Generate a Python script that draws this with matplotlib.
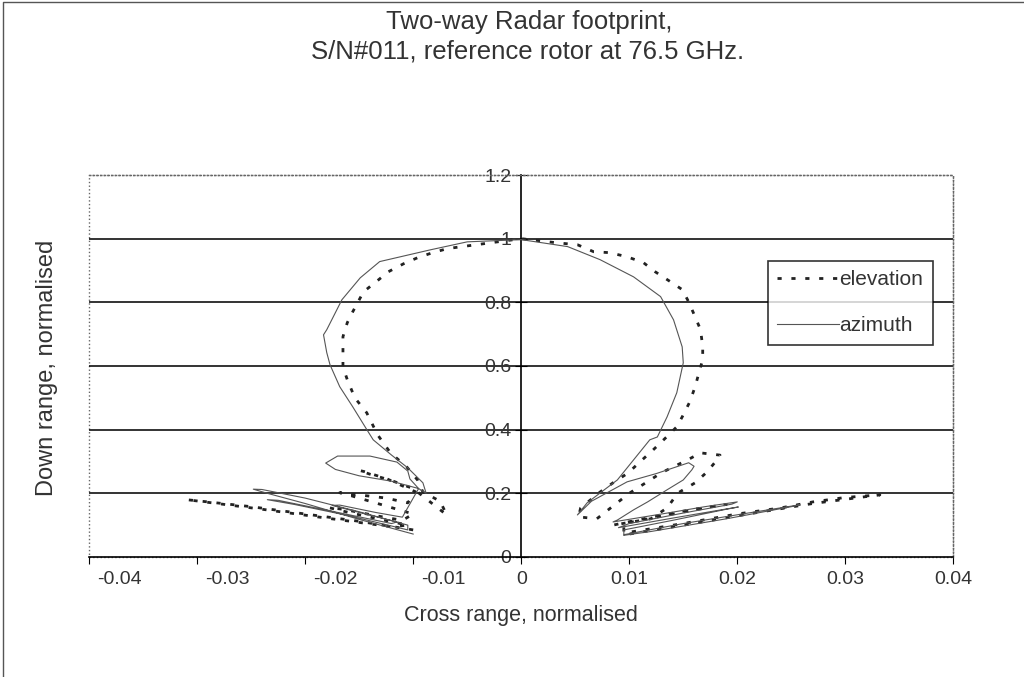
import matplotlib.pyplot as plt
from matplotlib.patches import Rectangle
from matplotlib.lines import Line2D
from matplotlib.transforms import ScaledTranslation

# Traced data (cross range, down range), both normalised
# azimuth: outer left sidelobes -> main lobe -> right sidelobes
az_x = [-0.0100, -0.0150, -0.0200, -0.0235, -0.0248, -0.0240, -0.0200, -0.0150, -0.0105,
        -0.0105, -0.0160, -0.0210, -0.0235, -0.0225, -0.0170, -0.0120,
        -0.0115, -0.0150, -0.0175, -0.0168, -0.0135, -0.0110,
        -0.0095, -0.0120, -0.0150, -0.0172, -0.0181, -0.0170, -0.0140, -0.0115, -0.0105, -0.0103, -0.0095,
        -0.0088, -0.0091, -0.0105, -0.0120, -0.0137, -0.0144, -0.0156, -0.0168, -0.0177, -0.0180,
        -0.0183, -0.0180, -0.0166, -0.0149, -0.0131, -0.0084, -0.0050, 0.0000,
        0.0043, 0.0073, 0.0104, 0.0129, 0.0141, 0.0149, 0.0150, 0.0144, 0.0135, 0.0126,
        0.0119, 0.0104, 0.0089, 0.0073, 0.0061, 0.0052,
        0.0065, 0.0098, 0.0125, 0.0155, 0.0160, 0.0158, 0.0150, 0.0135, 0.0117, 0.0104, 0.0089,
        0.0085, 0.0130, 0.0170, 0.0200, 0.0195, 0.0150, 0.0100,
        0.0090, 0.0140, 0.0185, 0.0201, 0.0190, 0.0140, 0.0095,
        0.0095, 0.0150, 0.0210, 0.0258, 0.0250, 0.0190, 0.0120, 0.0095]
az_y = [0.072, 0.118, 0.168, 0.200, 0.213, 0.212, 0.185, 0.142, 0.100,
        0.085, 0.130, 0.165, 0.180, 0.178, 0.140, 0.105,
        0.110, 0.140, 0.162, 0.163, 0.140, 0.125,
        0.215, 0.238, 0.255, 0.275, 0.295, 0.317, 0.317, 0.298, 0.270, 0.245, 0.215,
        0.200, 0.233, 0.280, 0.320, 0.368, 0.406, 0.472, 0.535, 0.604, 0.642,
        0.698, 0.714, 0.808, 0.877, 0.928, 0.965, 0.990, 0.997,
        0.975, 0.934, 0.880, 0.818, 0.745, 0.660, 0.610, 0.516, 0.440, 0.377,
        0.368, 0.305, 0.242, 0.201, 0.170, 0.132,
        0.175, 0.236, 0.262, 0.296, 0.285, 0.274, 0.242, 0.211, 0.173, 0.148, 0.116,
        0.110, 0.135, 0.158, 0.173, 0.166, 0.138, 0.105,
        0.092, 0.122, 0.148, 0.157, 0.150, 0.115, 0.085,
        0.070, 0.105, 0.138, 0.164, 0.158, 0.120, 0.080, 0.068]

# elevation: same ordering
el_x = [-0.0100, -0.0150, -0.0200, -0.0250, -0.0290, -0.0310, -0.0300, -0.0240, -0.0180, -0.0120,
        -0.0105, -0.0130, -0.0160, -0.0178, -0.0165, -0.0135, -0.0110,
        -0.0100, -0.0130, -0.0160, -0.0168, -0.0150, -0.0125, -0.0105,
        -0.0098, -0.0124, -0.0145, -0.0150, -0.0140, -0.0120, -0.0100,
        -0.0069, -0.0075, -0.0091, -0.0096, -0.0106, -0.0121, -0.0133, -0.0143, -0.0154, -0.0161,
        -0.0165, -0.0165, -0.0165, -0.0161, -0.0156, -0.0146, -0.0132, -0.0123, -0.0109, -0.0096,
        -0.0082, -0.0068, -0.0035, 0.0000,
        0.0033, 0.0052, 0.0067, 0.0082, 0.0098, 0.0113, 0.0124, 0.0138, 0.0149, 0.0154, 0.0159,
        0.0166, 0.0168, 0.0168, 0.0166, 0.0161, 0.0156, 0.0149, 0.0144, 0.0137, 0.0122, 0.0110,
        0.0099, 0.0085, 0.0073, 0.0064, 0.0055, 0.0053,
        0.0070, 0.0100, 0.0130, 0.0154, 0.0166, 0.0184, 0.0180, 0.0172, 0.0161, 0.0145, 0.0135, 0.0120,
        0.0085, 0.0120, 0.0160, 0.0190, 0.0180, 0.0140, 0.0095,
        0.0095, 0.0150, 0.0200, 0.0240, 0.0270, 0.0300, 0.0332, 0.0320, 0.0270, 0.0210, 0.0150, 0.0100]
el_y = [0.085, 0.112, 0.135, 0.158, 0.173, 0.180, 0.176, 0.150, 0.122, 0.095,
        0.100, 0.118, 0.140, 0.155, 0.150, 0.130, 0.115,
        0.135, 0.165, 0.195, 0.202, 0.195, 0.185, 0.170,
        0.205, 0.245, 0.268, 0.272, 0.260, 0.240, 0.215,
        0.132, 0.175, 0.204, 0.242, 0.283, 0.327, 0.384, 0.453, 0.500, 0.557,
        0.597, 0.660, 0.692, 0.736, 0.770, 0.833, 0.871, 0.896, 0.921, 0.940,
        0.956, 0.969, 0.984, 1.000,
        0.987, 0.981, 0.959, 0.956, 0.943, 0.925, 0.896, 0.865, 0.840, 0.808, 0.770,
        0.714, 0.660, 0.619, 0.597, 0.535, 0.487, 0.440, 0.409, 0.385, 0.336, 0.299,
        0.264, 0.233, 0.204, 0.179, 0.154, 0.126,
        0.120, 0.200, 0.265, 0.305, 0.327, 0.320, 0.300, 0.267, 0.233, 0.201, 0.154, 0.120,
        0.100, 0.125, 0.150, 0.165, 0.160, 0.135, 0.105,
        0.075, 0.105, 0.135, 0.154, 0.173, 0.187, 0.195, 0.190, 0.168, 0.135, 0.100, 0.072]

x_ticks = [-0.04, -0.03, -0.02, -0.01, 0, 0.01, 0.02, 0.03, 0.04]
x_labels = ['-0.04', '-0.03', '-0.02', '-0.01', '0', '0.01', '0.02', '0.03', '0.04']
y_ticks = [0, 0.2, 0.4, 0.6, 0.8, 1, 1.2]
y_labels = ['0', '0.2', '0.4', '0.6', '0.8', '1', '1.2']

plt.rcParams['font.family'] = ['Liberation Sans', 'DejaVu Sans']
txt = '#333333'

fig = plt.figure(figsize=(10.24, 6.77), dpi=100)
ax = fig.add_axes([0.087, 0.1773, 0.844, 0.5642])

ax.plot(el_x, el_y, color='#222222', lw=2.0, ls=(0, (1.5, 3.5)), label='elevation', zorder=3)
ax.plot(az_x, az_y, color='#555555', lw=0.8, label='azimuth', zorder=3)

ax.set_xlim(-0.04, 0.04)
ax.set_ylim(0, 1.2)
ax.set_xticks(x_ticks)
ax.set_xticklabels(x_labels)
ax.set_yticks(y_ticks)
ax.set_yticklabels(y_labels)
ax.tick_params(axis='both', labelsize=14, labelcolor=txt, colors='black')
ax.tick_params(axis='x', direction='out', length=5, pad=5)
ax.tick_params(axis='y', direction='inout', length=8, pad=3)

# negative labels sit a little right of their ticks in the original
shift = ScaledTranslation(0.30, 0, fig.dpi_scale_trans)
for lab, v in zip(ax.get_xticklabels(), x_ticks):
    if v < 0:
        lab.set_transform(lab.get_transform() + shift)

# horizontal gridlines
for v in y_ticks[1:-1]:
    ax.axhline(v, color='#111111', lw=1.2, zorder=1)

# Excel-style axes: y axis crosses at x = 0, dotted plot-area border
ax.spines['left'].set_position(('data', 0))
ax.spines['left'].set_linewidth(1.2)
ax.spines['bottom'].set_linewidth(1.2)
for s in ['top', 'right']:
    ax.spines[s].set_linestyle(':')
    ax.spines[s].set_color('#666666')
    ax.spines[s].set_linewidth(1.0)
ax.add_patch(Rectangle((0, 0), 1, 1, transform=ax.transAxes, fill=False,
                       ls=':', lw=1.0, ec='#666666', zorder=0, clip_on=False))

fig.text(0.509, 1 - 615 / 677, 'Cross range, normalised', fontsize=15.5, color=txt,
         ha='center', va='center')
fig.text(0.046, 1 - 368 / 677, 'Down range, normalised', rotation=90, fontsize=17,
         color=txt, ha='center', va='center')
fig.text(0.517, 1 - 22 / 677, 'Two-way Radar footprint,', fontsize=18.5, color=txt,
         ha='center', va='center')
fig.text(0.515, 1 - 51 / 677, 'S/N#011, reference rotor at 76.5 GHz.', fontsize=18.5,
         color=txt, ha='center', va='center')

leg = ax.legend(loc='upper left', bbox_to_anchor=(0.785, 0.775), fontsize=15,
                frameon=True, fancybox=False, handlelength=3.0, handletextpad=0.0,
                borderpad=0.45, labelspacing=1.3, borderaxespad=0)
leg.get_frame().set_edgecolor('black')
leg.get_frame().set_linewidth(1.2)
for t in leg.get_texts():
    t.set_color(txt)

# figure border (top and left edges)
fig.add_artist(Line2D([0.003, 0.003, 1.0], [0.0, 0.997, 0.997], transform=fig.transFigure,
                      color='#555555', lw=1.0))

fig.savefig('out.png', dpi=100)
